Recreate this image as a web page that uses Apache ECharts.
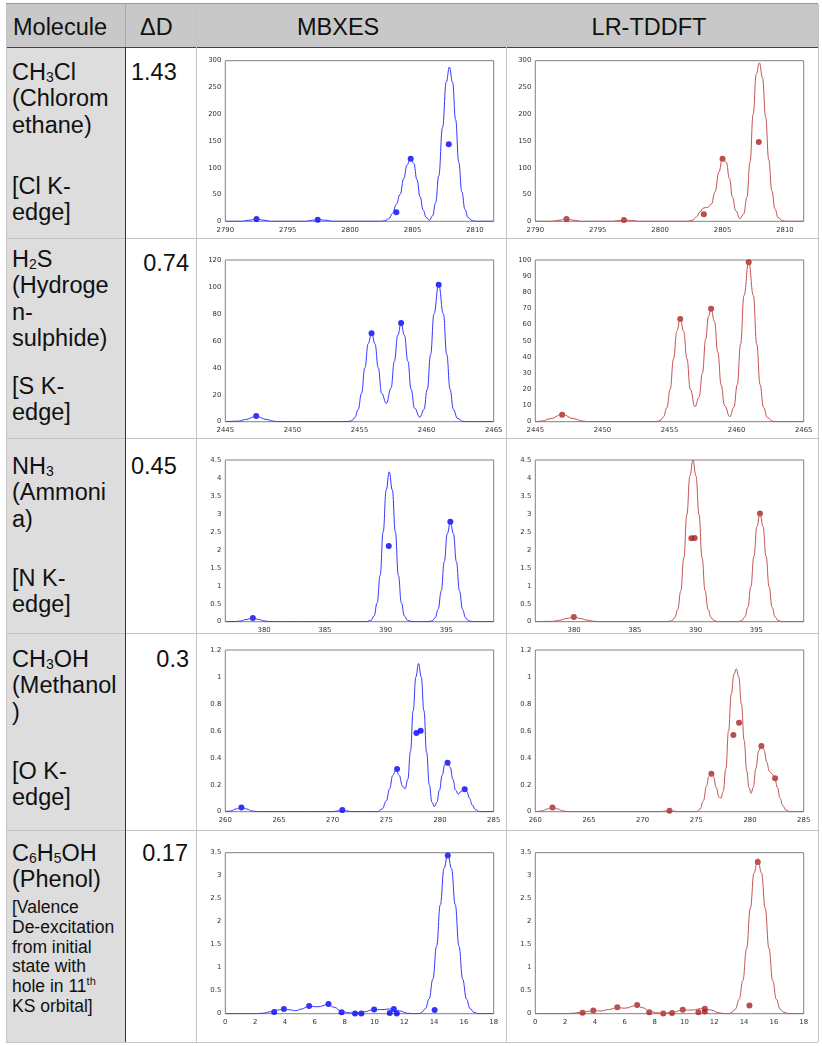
<!DOCTYPE html>
<html>
<head>
<meta charset="utf-8">
<script src="https://cdn.jsdelivr.net/npm/echarts@6/dist/echarts.min.js"></script>
<style>
  body { margin: 0; background: #fff; overflow: hidden; }
  #page { position: relative; width: 822px; height: 1046px; font-family: 'Liberation Sans', Arial, Helvetica, sans-serif; color: #111; }
  .bx { position: absolute; }
  .t { position: absolute; font-size: 23.5px; line-height: 26.5px; white-space: nowrap; }
  .sm { font-size: 17.5px; line-height: 19.8px; }
  .sb { font-size: 14px; vertical-align: -2px; line-height: 0; }
  .sp { font-size: 11px; vertical-align: 7px; line-height: 0; }
  #chart { position: absolute; left: 0; top: 0; width: 822px; height: 1046px; }
</style>
</head>
<body>
<div id="page">
  <!-- table backgrounds and rules -->
  <div class="bx" style="left:6px;top:4px;width:812px;height:43px;background:#c8c8c8"></div>
  <div class="bx" style="left:6px;top:47px;width:119px;height:995px;background:#dddddd"></div>
  <div class="bx" style="left:6px;top:3px;width:812px;height:1px;background:#9a9a9a"></div>
  <div class="bx" style="left:6px;top:47px;width:812px;height:1px;background:#444"></div>
  <div class="bx" style="left:6px;top:238px;width:812px;height:1px;background:#c4c4c4"></div>
  <div class="bx" style="left:6px;top:438px;width:812px;height:1px;background:#c4c4c4"></div>
  <div class="bx" style="left:6px;top:633px;width:812px;height:1px;background:#c4c4c4"></div>
  <div class="bx" style="left:6px;top:830px;width:812px;height:1px;background:#c4c4c4"></div>
  <div class="bx" style="left:6px;top:1042px;width:812px;height:1px;background:#c4c4c4"></div>
  <div class="bx" style="left:125px;top:4px;width:1px;height:43px;background:#aaa"></div>
  <div class="bx" style="left:125px;top:47px;width:1px;height:995px;background:#333"></div>
  <div class="bx" style="left:196px;top:4px;width:1px;height:1038px;background:#c4c4c4"></div>
  <div class="bx" style="left:506px;top:4px;width:1px;height:1038px;background:#c4c4c4"></div>
  <div class="bx" style="left:818px;top:4px;width:1px;height:1038px;background:#c4c4c4"></div>
  <div class="bx" style="left:6px;top:4px;width:1px;height:1038px;background:#c4c4c4"></div>

  <!-- header -->
  <div class="t" style="left:13px;top:13.75px">Molecule</div>
  <div class="t" style="left:140px;top:13.75px">ΔD</div>
  <div class="t" style="left:297px;width:80px;text-align:center;top:13.75px">MBXES</div>
  <div class="t" style="left:589px;width:120px;text-align:center;top:13.75px">LR-TDDFT</div>

  <!-- molecule column -->
  <div class="t" style="left:12px;top:58.75px">CH<span class="sb">3</span>Cl<br>(Chlorom<br>ethane)</div>
  <div class="t" style="left:12px;top:172.75px">[Cl K-<br>edge]</div>
  <div class="t" style="left:12px;top:245.75px">H<span class="sb">2</span>S<br>(Hydroge<br>n-<br>sulphide)</div>
  <div class="t" style="left:12px;top:372.75px">[S K-<br>edge]</div>
  <div class="t" style="left:12px;top:452.75px">NH<span class="sb">3</span><br>(Ammoni<br>a)</div>
  <div class="t" style="left:12px;top:564.75px">[N K-<br>edge]</div>
  <div class="t" style="left:12px;top:645.75px">CH<span class="sb">3</span>OH<br>(Methanol<br>)</div>
  <div class="t" style="left:12px;top:757.75px">[O K-<br>edge]</div>
  <div class="t" style="left:12px;top:839.75px">C<span class="sb">6</span>H<span class="sb">5</span>OH<br>(Phenol)</div>
  <div class="t sm" style="left:12px;top:898px">[Valence<br>De-excitation<br>from initial<br>state with<br>hole in 11<span class="sp">th</span><br>KS orbital]</div>

  <!-- ΔD column -->
  <div class="t" style="left:131px;top:58.75px">1.43</div>
  <div class="t" style="right:633px;top:250px">0.74</div>
  <div class="t" style="left:131px;top:452.75px">0.45</div>
  <div class="t" style="right:633px;top:645.75px">0.3</div>
  <div class="t" style="right:634px;top:839.75px">0.17</div>

  <div id="chart"></div>
</div>
<script>
// ---- tick labels ----
var clTicks = [2790, 2795, 2800, 2805, 2810];
var sTicks = [2445, 2450, 2455, 2460, 2465];
var nTicks = [380, 385, 390, 395];
var oTicks = [260, 265, 270, 275, 280, 285];
var phTicks = [0, 2, 4, 6, 8, 10, 12, 14, 16, 18];

// ---- CH3Cl, Cl K-edge ----
var clMbCurve = [[2790,0],[2791.3,0],[2791.9,2],[2792.5,4.5],[2793.1,2],[2793.7,0],[2796.4,0],[2797,2],[2797.5,3],[2798,2],[2798.6,0],
  [2802.4,0],[2802.8,1],[2803.1,5],[2803.4,15],[2803.7,32],[2804,50],[2804.3,80],[2804.55,105],[2804.85,119],[2805.1,108],[2805.35,78],
  [2805.6,46],[2805.85,21],[2806.1,7],[2806.35,2],[2806.6,10],[2806.85,35],[2807.1,85],[2807.4,175],[2807.7,260],[2807.95,288],
  [2808.2,260],[2808.45,190],[2808.7,110],[2808.95,55],[2809.2,22],[2809.45,7],[2809.8,1],[2810.1,0],[2811.5,0]];
var clMbSticks = [[2792.5,4.5],[2797.4,3],[2803.7,17],[2804.85,117],[2807.9,144]];
var clLrCurve = [[2790,0],[2791.3,0],[2791.9,2],[2792.5,4.5],[2793.1,2],[2793.7,0],[2796.1,0],[2796.7,1.5],[2797.2,2.5],[2797.7,1.5],[2798.3,0],
  [2802.2,0],[2802.6,2],[2802.9,8],[2803.2,18],[2803.5,25],[2803.8,26],[2804.1,32],[2804.4,55],[2804.7,92],[2805.0,118],[2805.3,110],
  [2805.55,80],[2805.8,45],[2806.05,20],[2806.4,5],[2806.7,14],[2806.95,45],[2807.2,110],[2807.45,200],[2807.7,275],[2807.95,296],
  [2808.2,268],[2808.45,195],[2808.7,115],[2808.95,57],[2809.2,23],[2809.45,7],[2809.8,1],[2810.1,0],[2811.5,0]];
var clLrSticks = [[2792.5,4.4],[2797.1,2.5],[2803.5,13],[2805.0,117],[2807.9,148]];

// ---- H2S, S K-edge ----
var sMbCurve = [[2445,0],[2446,0.4],[2446.5,1.6],[2447.3,4],[2448.1,1.6],[2448.6,0.4],[2449,0],[2454.1,0],[2454.4,0.7],[2454.65,3],
  [2454.9,9],[2455.15,21],[2455.4,40],[2455.65,58],[2455.9,66],[2456.15,58],[2456.4,40],[2456.65,21],[2457.0,13.6],[2457.35,25],
  [2457.6,45],[2457.85,64],[2458.1,73],[2458.35,64],[2458.6,45],[2458.85,24],[2459.1,10],[2459.5,3.4],[2459.8,9],[2460.05,24],
  [2460.3,50],[2460.55,80],[2460.9,102],[2461.25,80],[2461.5,50],[2461.75,24],[2462,9],[2462.3,2.5],[2462.7,0.3],[2463,0],[2465,0]];
var sMbSticks = [[2447.3,4.2],[2455.9,65.6],[2458.1,73.3],[2460.9,101.7]];
var sLrCurve = [[2445,0],[2445.5,0.4],[2446.1,1.8],[2447,4.5],[2447.9,1.8],[2448.5,0.4],[2449,0],[2454,0],[2454.3,0.7],[2454.55,3],
  [2454.8,8.6],[2455.05,20],[2455.3,39],[2455.55,56],[2455.8,64],[2456.05,56],[2456.3,39],[2456.55,20],[2456.9,9.3],[2457.2,15],
  [2457.45,30],[2457.7,51],[2457.9,65],[2458.1,70],[2458.35,62],[2458.6,43],[2458.85,22.6],[2459.1,10],[2459.5,3.1],[2459.8,9],
  [2460.05,23],[2460.3,48],[2460.55,78],[2460.9,99],[2461.25,78],[2461.5,48],[2461.75,23],[2462,9],[2462.3,2.5],[2462.7,0.3],[2463,0],[2465,0]];
var sLrSticks = [[2447.0,4.3],[2455.8,63.5],[2458.1,69.9],[2460.9,98.6]];

// ---- NH3, N K-edge ----
var nMbCurve = [[376.8,0],[377.6,0.005],[378.1,0.02],[378.5,0.06],[379.07,0.1],[379.6,0.06],[380.0,0.02],[380.5,0.005],[381,0],
  [388.4,0],[388.8,0.04],[389.05,0.16],[389.3,0.52],[389.55,1.29],[389.8,2.5],[390.05,3.67],[390.3,4.17],[390.55,3.67],[390.8,2.5],
  [391.05,1.29],[391.3,0.52],[391.55,0.16],[391.8,0.04],[392.2,0],[393.5,0],[393.83,0.025],[394.08,0.11],[394.33,0.35],[394.58,0.86],
  [394.83,1.67],[395.08,2.45],[395.33,2.78],[395.58,2.45],[395.83,1.67],[396.08,0.86],[396.33,0.35],[396.58,0.11],[396.83,0.025],[397.2,0],[398.9,0]];
var nMbSticks = [[379.07,0.1],[390.26,2.11],[395.33,2.78]];
var nLrCurve = [[376.8,0],[378.2,0.01],[378.8,0.04],[379.4,0.09],[379.97,0.13],[380.5,0.09],[381.1,0.04],[381.7,0.01],[382.3,0],
  [387.7,0],[388.03,0.03],[388.28,0.11],[388.53,0.34],[388.78,0.86],[389.03,1.78],[389.28,2.98],[389.53,4.06],[389.78,4.5],[390.03,4.06],
  [390.28,2.98],[390.53,1.78],[390.78,0.86],[391.03,0.34],[391.28,0.11],[391.53,0.03],[391.9,0],[393.5,0],[393.8,0.03],[394.05,0.13],
  [394.3,0.4],[394.55,0.98],[394.8,1.82],[395.05,2.65],[395.3,3.01],[395.55,2.65],[395.8,1.82],[396.05,0.98],[396.3,0.4],[396.55,0.13],
  [396.8,0.03],[397.2,0],[398.9,0]];
var nLrSticks = [[379.97,0.13],[389.65,2.32],[389.92,2.33],[395.3,3.01]];

// ---- CH3OH, O K-edge ----
var oMbCurve = [[260,0],[260.5,0.005],[261,0.02],[261.5,0.032],[262,0.02],[262.5,0.005],[263,0],[270,0],[270.5,0.006],[270.9,0.012],
  [271.3,0.006],[271.8,0],[274.2,0],[274.6,0.02],[275.0,0.08],[275.3,0.17],[275.6,0.27],[275.9,0.31],[276.2,0.27],[276.5,0.19],
  [276.75,0.17],[277.0,0.24],[277.25,0.45],[277.5,0.75],[277.75,1.0],[278.0,1.1],[278.25,1.0],[278.5,0.75],[278.75,0.44],[279.0,0.2],
  [279.25,0.07],[279.47,0.037],[279.7,0.07],[279.95,0.16],[280.2,0.27],[280.45,0.35],[280.7,0.37],[280.95,0.33],[281.2,0.24],
  [281.45,0.16],[281.7,0.13],[281.95,0.15],[282.25,0.17],[282.5,0.15],[282.75,0.1],[283.0,0.05],[283.3,0.015],[283.7,0],[285,0]];
var oMbSticks = [[261.5,0.032],[270.9,0.012],[276.0,0.317],[277.8,0.584],[278.2,0.6],[280.7,0.364],[282.3,0.166]];
var oLrCurve = [[260,0],[260.6,0.005],[261.1,0.02],[261.6,0.032],[262.1,0.02],[262.6,0.005],[263.1,0],[271.6,0],[272.1,0.004],
  [272.5,0.006],[272.9,0.004],[273.4,0],[275.0,0],[275.35,0.02],[275.65,0.08],[275.95,0.19],[276.15,0.26],[276.37,0.285],[276.6,0.26],
  [276.85,0.18],[277.1,0.11],[277.3,0.1],[277.5,0.15],[277.75,0.32],[278.0,0.6],[278.25,0.87],[278.5,1.02],[278.73,1.06],[278.95,1.0],
  [279.2,0.8],[279.45,0.53],[279.7,0.3],[279.9,0.18],[280.1,0.136],[280.3,0.18],[280.55,0.32],[280.8,0.45],[281.06,0.495],[281.3,0.46],
  [281.55,0.37],[281.8,0.3],[282.05,0.28],[282.3,0.25],[282.55,0.18],[282.8,0.1],[283.05,0.045],[283.35,0.012],[283.7,0],[285,0]];
var oLrSticks = [[261.6,0.032],[272.5,0.007],[276.4,0.282],[278.45,0.569],[278.98,0.66],[281.06,0.488],[282.33,0.248]];

// ---- C6H5OH, valence ----
var phMbCurve = [[0,0],[2,0],[2.5,0.01],[3.0,0.04],[3.5,0.08],[3.95,0.1],[4.3,0.085],[4.7,0.065],[5.1,0.1],[5.6,0.165],[6.2,0.15],
  [6.9,0.2],[7.3,0.14],[7.8,0.05],[8.3,0.02],[8.7,0.015],[9.3,0.04],[9.9,0.085],[10.5,0.09],[11.2,0.105],[11.7,0.06],[12.2,0.01],
  [12.6,0],[13.0,0],[13.17,0.03],[13.42,0.11],[13.67,0.32],[13.92,0.75],[14.17,1.47],[14.42,2.37],[14.67,3.16],[14.92,3.48],
  [15.17,3.16],[15.42,2.37],[15.67,1.47],[15.92,0.75],[16.17,0.32],[16.42,0.11],[16.67,0.03],[17,0],[18,0]];
var phMbSticks = [[3.28,0.036],[3.93,0.1],[5.62,0.17],[6.92,0.21],[7.8,0.03],[8.7,0.007],[9.12,0.007],[9.98,0.094],[11.03,0.014],
  [11.3,0.1],[11.5,0.007],[14.04,0.08],[14.92,3.44]];
var phLrCurve = [[0,0],[2,0],[2.5,0.01],[3.0,0.03],[3.5,0.05],[3.9,0.065],[4.4,0.06],[4.9,0.09],[5.5,0.13],[6.0,0.12],[6.8,0.18],
  [7.2,0.13],[7.7,0.05],[8.2,0.02],[8.6,0.01],[9.2,0.03],[9.9,0.08],[10.5,0.08],[11.3,0.12],[11.8,0.08],[12.3,0.02],[12.7,0],[13.0,0],
  [13.17,0.03],[13.42,0.1],[13.67,0.31],[13.92,0.72],[14.17,1.42],[14.42,2.29],[14.67,3.06],[14.92,3.37],[15.17,3.06],[15.42,2.29],
  [15.67,1.42],[15.92,0.72],[16.17,0.31],[16.42,0.1],[16.67,0.03],[17,0],[18,0]];
var phLrSticks = [[3.17,0.02],[3.89,0.07],[5.5,0.14],[6.83,0.19],[7.64,0.03],[8.58,0.007],[9.17,0.015],[9.89,0.087],[10.94,0.03],
  [11.37,0.05],[11.37,0.11],[14.36,0.18],[14.92,3.3]];

// panel list: row, column, data and axis ranges
var panels = [
  {r:0, c:0, curve:clMbCurve, dots:clMbSticks, xMin:2790, xMax:2811.5, ticks:clTicks, yMax:300, yStep:50},
  {r:0, c:1, curve:clLrCurve, dots:clLrSticks, xMin:2790, xMax:2811.5, ticks:clTicks, yMax:300, yStep:50},
  {r:1, c:0, curve:sMbCurve, dots:sMbSticks, xMin:2445, xMax:2465, ticks:sTicks, yMax:120, yStep:20},
  {r:1, c:1, curve:sLrCurve, dots:sLrSticks, xMin:2445, xMax:2465, ticks:sTicks, yMax:100, yStep:10},
  {r:2, c:0, curve:nMbCurve, dots:nMbSticks, xMin:376.8, xMax:398.9, ticks:nTicks, yMax:4.5, yStep:0.5},
  {r:2, c:1, curve:nLrCurve, dots:nLrSticks, xMin:376.8, xMax:398.9, ticks:nTicks, yMax:4.5, yStep:0.5},
  {r:3, c:0, curve:oMbCurve, dots:oMbSticks, xMin:260, xMax:285, ticks:oTicks, yMax:1.2, yStep:0.2},
  {r:3, c:1, curve:oLrCurve, dots:oLrSticks, xMin:260, xMax:285, ticks:oTicks, yMax:1.2, yStep:0.2},
  {r:4, c:0, curve:phMbCurve, dots:phMbSticks, xMin:0, xMax:18, ticks:phTicks, yMax:3.5, yStep:0.5},
  {r:4, c:1, curve:phLrCurve, dots:phLrSticks, xMin:0, xMax:18, ticks:phTicks, yMax:3.5, yStep:0.5}
];

var colLeft = [225.3, 535.3];
var rowBox = [[60.7, 221.3], [260, 421.7], [460, 621.7], [650, 811.7], [852.7, 1013.7]];
var lineColor = ['#3535ff', '#c45252'];
var dotColor = ['#0000f5', '#a82222'];

var labelStyle = { color: '#333', fontSize: 6.9, fontFamily: 'DejaVu Sans' };
function plain(v) { return String(+v.toFixed(6)); } // no thousands separator

var grid = [], xAxis = [], yAxis = [], series = [];
panels.forEach(function (p, i) {
  grid.push({
    left: colLeft[p.c], top: rowBox[p.r][0],
    width: 268.4, height: rowBox[p.r][1] - rowBox[p.r][0],
    show: true, borderColor: '#808080', borderWidth: 1, backgroundColor: 'transparent'
  });
  xAxis.push({
    type: 'value', gridIndex: i, min: p.xMin, max: p.xMax,
    axisLine: { show: false }, splitLine: { show: false },
    axisTick: { show: false },
    axisLabel: Object.assign({ customValues: p.ticks, margin: 5, formatter: plain }, labelStyle)
  });
  yAxis.push({
    type: 'value', gridIndex: i, min: 0, max: p.yMax, interval: p.yStep,
    axisLine: { show: false }, splitLine: { show: false },
    axisTick: { show: false },
    axisLabel: Object.assign({ margin: 4, formatter: plain }, labelStyle)
  });
  series.push({
    type: 'line', xAxisIndex: i, yAxisIndex: i, data: p.curve,
    smooth: 0.45, smoothMonotone: 'x', showSymbol: false, silent: true,
    lineStyle: { color: lineColor[p.c], width: 1 }
  });
  series.push({
    type: 'scatter', xAxisIndex: i, yAxisIndex: i, data: p.dots,
    symbolSize: 6, silent: true,
    itemStyle: { color: dotColor[p.c] }
  });
});

var chart = echarts.init(document.getElementById('chart'));
chart.setOption({
  animation: false,
  grid: grid,
  xAxis: xAxis,
  yAxis: yAxis,
  series: series
});
</script>
</body>
</html>
